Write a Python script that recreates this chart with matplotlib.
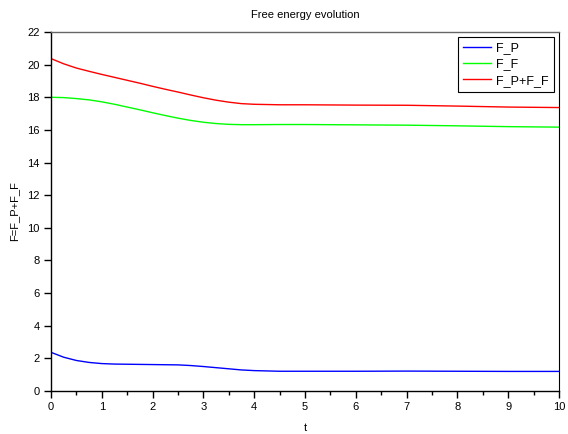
import matplotlib
matplotlib.use("Agg")
import matplotlib.pyplot as plt
from matplotlib.ticker import MultipleLocator

plt.rcParams['font.family'] = ['Liberation Sans', 'DejaVu Sans']

# Values
t = [0, 0.25, 0.5, 0.75, 1, 1.25, 1.5, 1.75, 2, 2.25, 2.5, 2.75, 3, 3.25,
     3.5, 3.75, 4, 4.5, 5, 6, 7, 8, 9, 10]
f_p = [2.37, 2.07, 1.87, 1.75, 1.68, 1.65, 1.64, 1.63, 1.62, 1.61, 1.60, 1.56,
       1.50, 1.43, 1.36, 1.29, 1.25, 1.21, 1.21, 1.21, 1.22, 1.21, 1.20, 1.20]
f_f = [18.0, 17.98, 17.92, 17.84, 17.72, 17.57, 17.40, 17.23, 17.05, 16.88,
       16.72, 16.58, 16.47, 16.39, 16.34, 16.32, 16.32, 16.33, 16.33, 16.31,
       16.29, 16.25, 16.20, 16.17]
f_total = [20.37, 20.05, 19.79, 19.59, 19.40, 19.22, 19.04, 18.86, 18.67, 18.49,
           18.32, 18.14, 17.97, 17.82, 17.70, 17.61, 17.57, 17.54, 17.54, 17.52,
           17.51, 17.46, 17.40, 17.37]

y_ticks = list(range(0, 23, 2))
x_ticks = list(range(0, 11))


def main():
    fig = plt.figure(figsize=(5.68, 4.34), dpi=100)
    ax = fig.add_axes([51 / 568, 1 - 391 / 434, 508 / 568, 359 / 434])

    ax.plot(t, f_p, color='#0000ff', lw=1, label='F_P')
    ax.plot(t, f_f, color='#00ff00', lw=1, label='F_F')
    ax.plot(t, f_total, color='#ff0000', lw=1, label='F_P+F_F')

    ax.set_xlim(0, 10)
    ax.set_ylim(0, 22)
    ax.set_xticks(x_ticks)
    ax.set_yticks(y_ticks)
    ax.xaxis.set_minor_locator(MultipleLocator(0.5))

    ax.tick_params(which='major', direction='out', length=5, width=1,
                   labelsize=8, pad=3, colors='black')
    ax.tick_params(which='minor', direction='out', length=3, width=1)
    ax.tick_params(top=False, right=False)

    ax.spines['left'].set_linewidth(1)
    ax.spines['bottom'].set_linewidth(1)
    ax.spines['top'].set_color('#666666')
    ax.spines['top'].set_linewidth(1)
    ax.spines['right'].set_linewidth(0.8)

    ax.set_title('Free energy evolution', fontsize=8, pad=10)
    ax.set_xlabel('t', fontsize=8, labelpad=8)
    ax.set_ylabel('F=F_P+F_F', fontsize=8, labelpad=6)

    leg = ax.legend(loc='upper right', fontsize=9, fancybox=False,
                    edgecolor='black', framealpha=1, borderaxespad=0.4,
                    handlelength=2.3, handletextpad=0.4, labelspacing=0.35,
                    borderpad=0.4)
    leg.get_frame().set_linewidth(0.8)

    fig.savefig('out.png', dpi=100)


if __name__ == '__main__':
    main()
